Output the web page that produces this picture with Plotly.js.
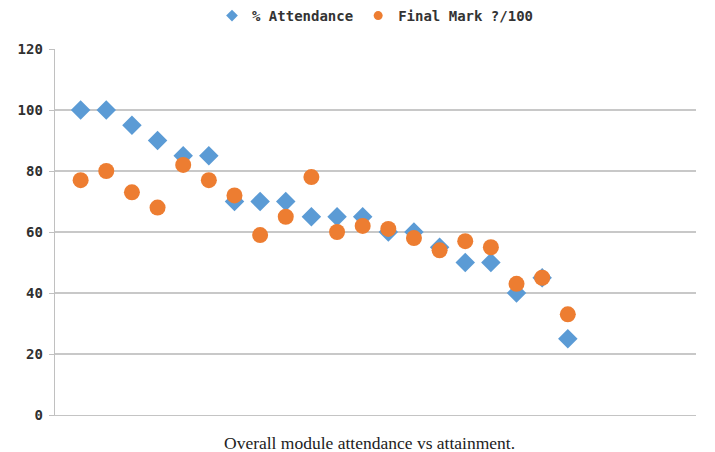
<!DOCTYPE html>
<html><head><meta charset="utf-8">
<script src="https://cdn.plot.ly/plotly-3.0.1.min.js"></script>
<style>html,body{margin:0;padding:0;background:#fff;}#chart{width:715px;height:452px;}</style>
</head><body><div id="chart"></div>
<script>
const students = [1,2,3,4,5,6,7,8,9,10,11,12,13,14,15,16,17,18,19,20];
const attendance = [100,100,95,90,85,85,70,70,70,65,65,65,60,60,55,50,50,40,45,25];
const finalMark = [77,80,73,68,82,77,72,59,65,78,60,62,61,58,54,57,55,43,45,33];
const yTicks = [0,20,40,60,80,100,120];
const seriesNames = ['% Attendance', 'Final Mark ?/100'];
const colors = ['#5B9BD5', '#ED7D31'];

const traces = [
  {x: students, y: attendance, type: 'scatter', mode: 'markers', name: seriesNames[0], showlegend: false,
   marker: {symbol: 'diamond', size: 15, color: colors[0]}},
  {x: students, y: finalMark, type: 'scatter', mode: 'markers', name: seriesNames[1], showlegend: false,
   marker: {symbol: 'circle', size: 16, color: colors[1]}},
  {x: [null], y: [null], type: 'scatter', mode: 'markers', name: seriesNames[0], showlegend: true,
   marker: {symbol: 'diamond', size: 9, color: colors[0]}},
  {x: [null], y: [null], type: 'scatter', mode: 'markers', name: seriesNames[1], showlegend: true,
   marker: {symbol: 'circle', size: 9, color: colors[1]}}
];

const layout = {
  width: 715, height: 452,
  margin: {l: 55, r: 19, t: 49, b: 37},
  paper_bgcolor: '#ffffff', plot_bgcolor: '#ffffff',
  showlegend: true,
  legend: {orientation: 'h', x: 0.5, xanchor: 'center', y: 1, yref: 'container', yanchor: 'top',
           font: {family: 'DejaVu Sans Mono, monospace', size: 14, color: '#333333', weight: 'bold'},
           itemwidth: 30, tracegroupgap: 0},
  xaxis: {range: [0, 25], showticklabels: false, showgrid: false, zeroline: false,
          showline: true, linecolor: '#c4c4c4', linewidth: 1.3, ticks: ''},
  yaxis: {range: [0, 120], tickvals: yTicks, ticktext: yTicks.map(String),
          showgrid: true, gridcolor: '#c8c8c8', gridwidth: 1.3,
          showline: true, linecolor: '#c0c0c0', linewidth: 1.3,
          ticks: 'outside', ticklen: 5, tickcolor: '#c0c0c0', ticklabelstandoff: 3,
          zeroline: false,
          tickfont: {family: 'DejaVu Sans Mono, monospace', size: 14, color: '#303030', weight: 'bold'}},
  annotations: [{text: 'Overall module attendance vs attainment.', xref: 'paper', yref: 'paper',
    x: 0.49, y: 0, yshift: -28, xanchor: 'center', yanchor: 'middle', showarrow: false,
    font: {family: 'Liberation Serif, Times New Roman, serif', size: 17.5, color: '#222'}}]
};

Plotly.newPlot('chart', traces, layout, {displayModeBar: false, staticPlot: true});
</script></body></html>
